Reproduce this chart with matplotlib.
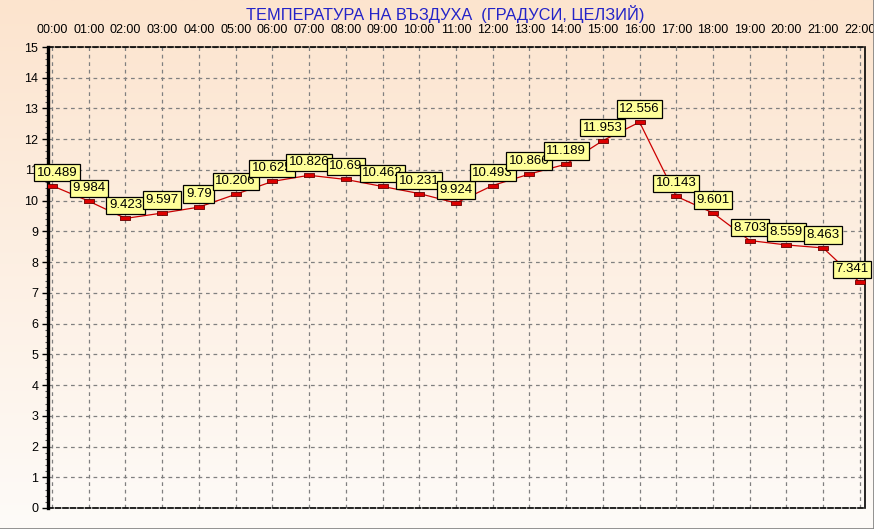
import numpy as np
import matplotlib
matplotlib.use('Agg')
from matplotlib import pyplot as plt
from matplotlib.ticker import MultipleLocator
from matplotlib.lines import Line2D

plt.rcParams['font.family'] = ['Liberation Sans', 'DejaVu Sans']

hours = ['00:00', '01:00', '02:00', '03:00', '04:00', '05:00', '06:00', '07:00',
         '08:00', '09:00', '10:00', '11:00', '12:00', '13:00', '14:00', '15:00',
         '16:00', '17:00', '18:00', '19:00', '20:00', '21:00', '22:00']
temp = [10.489, 9.984, 9.423, 9.597, 9.79, 10.206, 10.625, 10.826, 10.69, 10.462,
        10.231, 9.924, 10.493, 10.866, 11.189, 11.953, 12.556, 10.143, 9.601,
        8.703, 8.559, 8.463, 7.341]
labels = ['10.489', '9.984', '9.423', '9.597', '9.79', '10.206', '10.625', '10.826',
          '10.69', '10.462', '10.231', '9.924', '10.493', '10.866', '11.189',
          '11.953', '12.556', '10.143', '9.601', '8.703', '8.559', '8.463', '7.341']
title = 'ТЕМПЕРАТУРА НА ВЪЗДУХА  (ГРАДУСИ, ЦЕЛЗИЙ)'

W, H = 874, 529
fig = plt.figure(figsize=(W / 100, H / 100), dpi=100)

# background gradient, peach at the top fading to white
bg = fig.add_axes([0, 0, 1, 1], zorder=-10)
top = np.array([252, 228, 206]) / 255
bot = np.array([254, 251, 248]) / 255
t = np.linspace(0, 1, 256)[:, None]
grad = top[None, :] * (1 - t) + bot[None, :] * t
bg.imshow(grad[:, None, :], aspect='auto', extent=[0, 1, 0, 1])
bg.set_xlim(0, 1)
bg.set_ylim(0, 1)
bg.axis('off')
# sunken frame lines on right and bottom
fig.add_artist(Line2D([0, 1], [0.5 / H, 0.5 / H], color='#808080', lw=1.2))
fig.add_artist(Line2D([1 - 0.5 / W, 1 - 0.5 / W], [0, 1], color='#808080', lw=1.2))

ax = fig.add_axes([48 / W, 21 / H, (865 - 48) / W, (508 - 47) / H])
ax.patch.set_alpha(0)

x = np.arange(len(temp))
ax.plot(x, temp, color='#cc0000', lw=0.9, zorder=3)
rect = [(-1, -0.45), (1, -0.45), (1, 0.45), (-1, 0.45), (-1, -0.45)]
ax.plot(x, temp, ls='none', marker=rect, ms=7, mfc='#dd0000', mec='#660000',
        mew=0.6, zorder=4)

n = len(temp)
for i, (xi, yi, lab) in enumerate(zip(x, temp, labels)):
    # keep the end boxes inside the plot like the original
    dx = 5 if i == 0 else (-8 if i == n - 1 else 0)
    ax.annotate(lab, (xi, yi), xytext=(dx, 7), textcoords='offset pixels',
                ha='center', va='bottom', fontsize=9.5, zorder=5,
                bbox=dict(boxstyle='square,pad=0.2', fc='#ffff99', ec='black', lw=0.9))

ax.set_xlim(-0.11, 22.14)
ax.set_ylim(0, 15)
ax.set_xticks(x)
ax.set_xticklabels(hours)
ax.xaxis.tick_top()
ax.tick_params(axis='x', length=0, pad=8, labelsize=9)
ax.set_yticks(range(16))
ax.yaxis.set_minor_locator(MultipleLocator(0.2))
ax.tick_params(axis='y', which='major', length=4, width=1, pad=3, labelsize=9)
ax.tick_params(axis='y', which='minor', length=2, width=0.8, color='#555555')
ax.grid(True, ls=(0, (3, 3)), color='#808080', lw=0.9)

ax.spines['left'].set_linewidth(2.4)
ax.spines['right'].set_linewidth(1.2)
ax.spines['top'].set_linestyle((0, (3, 1.5)))
ax.spines['bottom'].set_linestyle((0, (3, 1.5)))
ax.spines['top'].set_linewidth(1.2)
ax.spines['bottom'].set_linewidth(1.2)

fig.text(445 / W, 1 - 14 / H, title, ha='center', va='center', color='#2323c8', fontsize=11.8)

fig.savefig('out.png', dpi=100)
